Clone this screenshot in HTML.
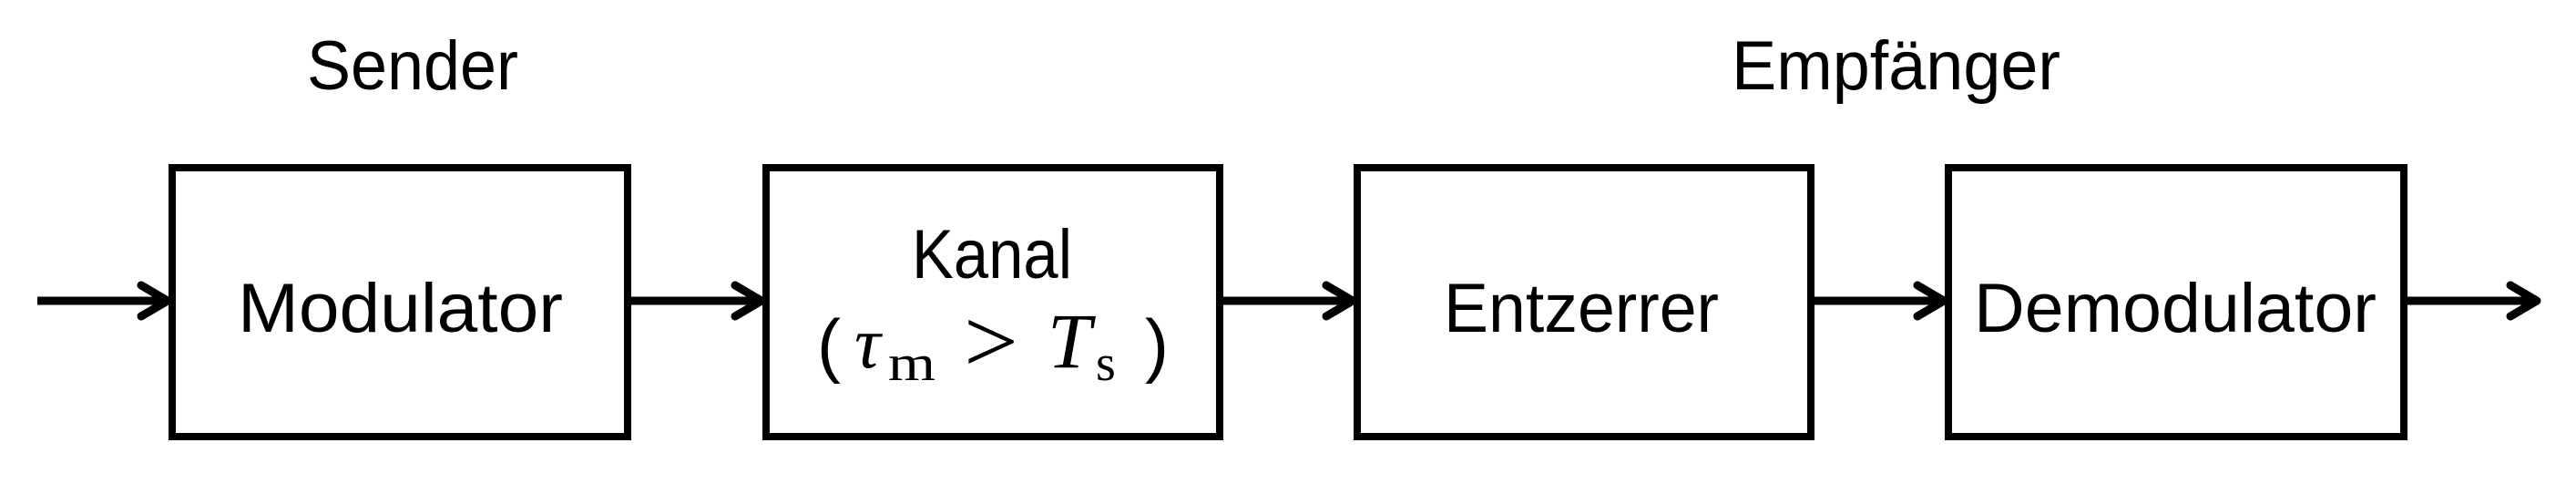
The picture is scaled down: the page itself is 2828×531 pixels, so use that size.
<!DOCTYPE html>
<html><head><meta charset="utf-8"><style>html,body{margin:0;padding:0;background:#fff}svg{display:block}</style></head>
<body>
<svg width="2828" height="531" viewBox="0 0 2828 531" xmlns="http://www.w3.org/2000/svg">
<g fill="none" stroke="#000" stroke-width="8">
<rect x="189" y="184" width="500" height="295"/>
<rect x="841" y="184" width="498" height="295"/>
<rect x="1490" y="184" width="498" height="295"/>
<rect x="2139" y="184" width="500" height="295"/>
</g>
<g stroke="#000" stroke-width="9" fill="none" stroke-linecap="round" stroke-linejoin="round">
<line x1="41" y1="330" x2="183" y2="330" stroke-linecap="butt"/>
<polyline points="155,313 184,330 155,347"/>
<line x1="693" y1="330" x2="835" y2="330" stroke-linecap="butt"/>
<polyline points="807,313 836,330 807,347"/>
<line x1="1343" y1="330" x2="1484" y2="330" stroke-linecap="butt"/>
<polyline points="1456,313 1485,330 1456,347"/>
<line x1="1992" y1="330" x2="2133" y2="330" stroke-linecap="butt"/>
<polyline points="2105,313 2134,330 2105,347"/>
<line x1="2643" y1="330" x2="2784" y2="330" stroke-linecap="butt"/>
<polyline points="2756,313 2785,330 2756,347"/>
</g>
<g font-family="Liberation Sans, sans-serif" font-size="76" fill="#000">
<text x="337" y="98" textLength="232" lengthAdjust="spacingAndGlyphs">Sender</text>
<text x="1901" y="98" textLength="361" lengthAdjust="spacingAndGlyphs">Empfänger</text>
<text x="261" y="364" textLength="357" lengthAdjust="spacingAndGlyphs">Modulator</text>
<text x="1001" y="305" textLength="176" lengthAdjust="spacingAndGlyphs">Kanal</text>
<text x="1585" y="364" textLength="302" lengthAdjust="spacingAndGlyphs">Entzerrer</text>
<text x="2167" y="364" textLength="442" lengthAdjust="spacingAndGlyphs">Demodulator</text>
<text x="897" y="405" font-size="78">(</text>
<text x="1257" y="405" font-size="78">)</text>
</g>
<g font-family="Liberation Serif, serif" fill="#000">
<text x="938" y="403" font-size="80" font-style="italic">τ</text>
<text x="975" y="417" font-size="56" textLength="52" lengthAdjust="spacingAndGlyphs">m</text>
<text x="1058" y="408" font-size="100" textLength="60" lengthAdjust="spacingAndGlyphs">&gt;</text>
<text x="1150" y="403" font-size="86" font-style="italic">T</text>
<text x="1203" y="417" font-size="56">s</text>
</g>
</svg>
</body></html>
